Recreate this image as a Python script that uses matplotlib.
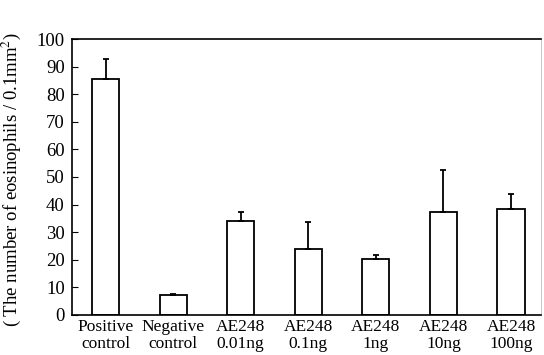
import numpy as np
import matplotlib
matplotlib.use('Agg')
import matplotlib.pyplot as plt

# Data
labels = ['Positive\ncontrol', 'Negative\ncontrol', 'AE248\n0.01ng', 'AE248\n0.1ng',
          'AE248\n1ng', 'AE248\n10ng', 'AE248\n100ng']
means = [85.5, 7.1, 33.9, 23.9, 20.2, 37.3, 38.5]
errors = [7.3, 0.4, 3.3, 9.8, 1.5, 15.2, 5.2]
yticks = [0, 10, 20, 30, 40, 50, 60, 70, 80, 90, 100]

plt.rcParams['font.family'] = ['Liberation Serif', 'DejaVu Serif']
plt.rcParams['mathtext.fontset'] = 'stix'

fig = plt.figure(figsize=(5.44, 3.55), dpi=100)
ax = fig.add_axes([0.132, 0.113, 0.862, 0.777])

x = np.arange(len(labels))
ax.bar(x, means, width=0.4, color='white', edgecolor='black', linewidth=1.3)
ax.errorbar(x, means, yerr=[np.zeros(len(errors)), errors], fmt='none',
            ecolor='black', elinewidth=1.3, capsize=2.5, capthick=1.3)

ax.set_xlim(-0.5, 6.44)
ax.set_ylim(0, 100)
ax.set_yticks(yticks)
ax.set_xticks(x)
ax.set_xticklabels(labels, fontsize=12.5, linespacing=1.1)
ax.tick_params(axis='x', length=0, pad=3)
ax.tick_params(axis='y', direction='in', length=4, labelsize=13.5, pad=5)
for s in ['left', 'bottom', 'top']:
    ax.spines[s].set_linewidth(1.2)
ax.spines['right'].set_linewidth(0.6)
ax.spines['right'].set_color('#bbbbbb')

ax.set_ylabel('( The number of eosinophils / 0.1mm$^2$)', fontsize=13.5)
ax.yaxis.set_label_coords(-0.105, 0.49)

fig.savefig('out.png', dpi=100)
